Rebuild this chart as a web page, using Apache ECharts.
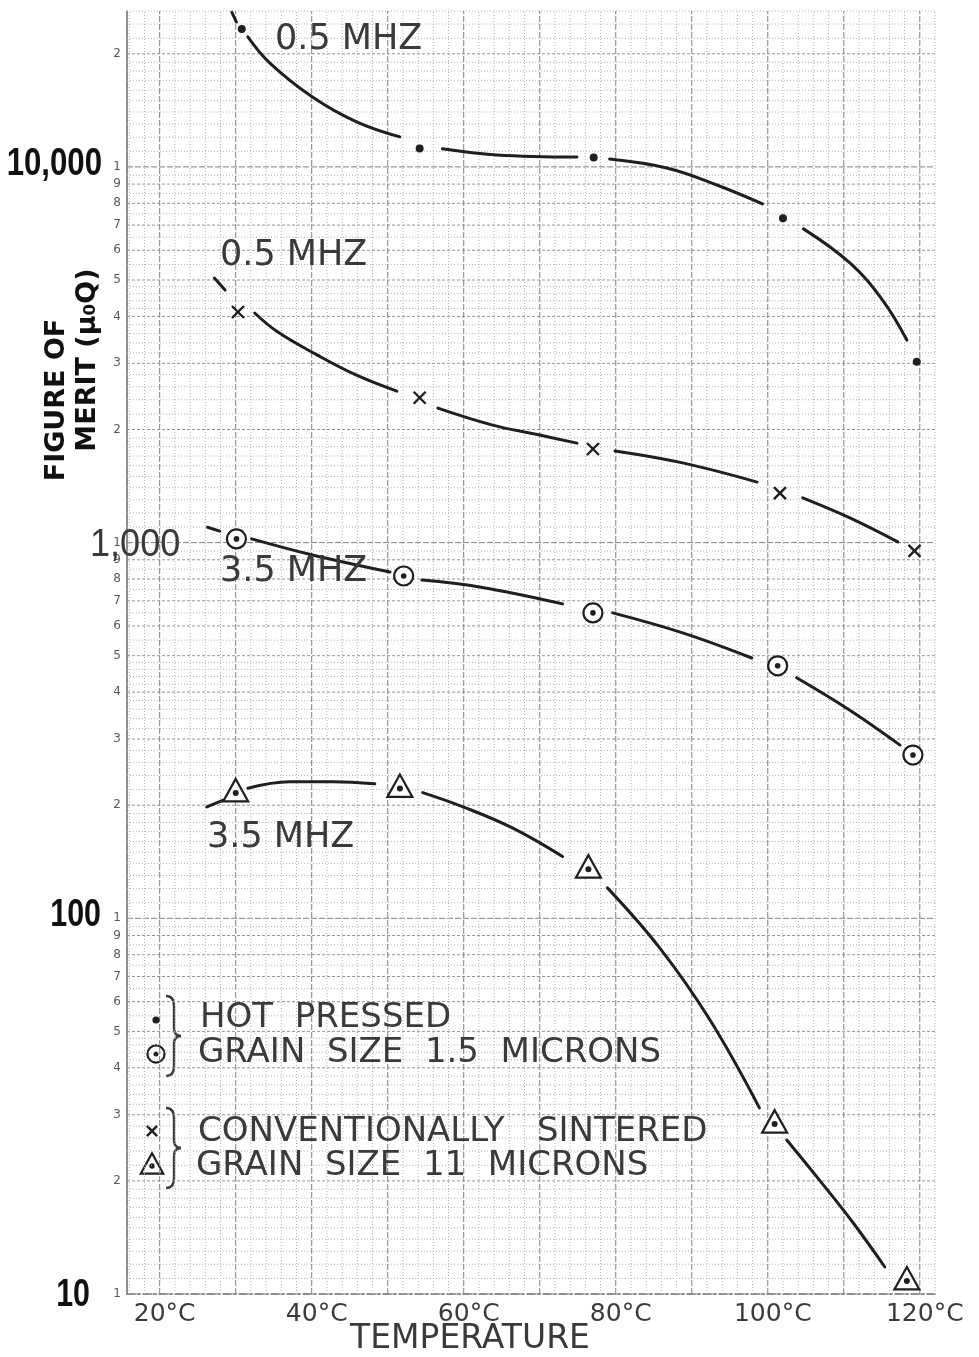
<!DOCTYPE html>
<html>
<head>
<meta charset="utf-8">
<title>Figure of Merit vs Temperature</title>
<script src="https://cdn.jsdelivr.net/npm/echarts@6.0.0/dist/echarts.min.js"></script>
<style>
  html, body { margin: 0; padding: 0; background: #ffffff; }
  #chart { width: 979px; height: 1357px; }
</style>
</head>
<body>
<div id="chart"></div>
<script>
// ---- Measured points (temperature in °C, figure of merit μ0Q) ----
const hotPressed05 = [[30.8, 23300], [54.2, 11200], [77.1, 10600], [102.0, 7300], [119.6, 3030]];
const conventional05 = [[30.3, 4110], [54.2, 2430], [77.0, 1775], [101.6, 1355], [119.3, 951]];
const hotPressed35 = [[30.1, 1023], [52.1, 815], [77.0, 650], [101.3, 470], [119.1, 272]];
const conventional35 = [[30.0, 217], [51.6, 223], [76.4, 136], [100.9, 28.5], [118.3, 10.9]];

// ---- Hand-drawn fair curves, broken around each plotted point ----
const hotPressed05Curve = [
  [[29.5, 25800], [30.1, 24300]],
  [[31.6, 22200], [34.5, 18900], [40.1, 15350], [45.9, 13180], [51.6, 12020]],
  [[57.2, 11170], [64.3, 10760], [74.9, 10620]],
  [[79.2, 10490], [86.7, 9930], [93.3, 8950], [99.3, 7970]],
  [[104.7, 6840], [110.8, 5550], [115.1, 4420], [118.3, 3460]]
];
const conventional05Curve = [
  [[27.2, 5060], [28.6, 4700]],
  [[32.5, 4085], [35.5, 3640], [40.7, 3160], [45.9, 2790], [51.2, 2530]],
  [[56.6, 2280], [63.8, 2055], [70.0, 1933], [74.9, 1840]],
  [[79.9, 1754], [88.8, 1630], [98.6, 1449]],
  [[104.6, 1315], [110.8, 1163], [117.1, 1004]]
];
const hotPressed35Curve = [
  [[26.3, 1099], [27.9, 1073]],
  [[32.1, 1023], [40.1, 927], [50.3, 835]],
  [[54.5, 795], [62.1, 762], [73.0, 687]],
  [[79.6, 650], [88.8, 575], [97.9, 493]],
  [[103.8, 437], [110.8, 358], [117.4, 289]]
];
const conventional35Curve = [
  [[26.2, 198], [28.3, 206]],
  [[31.6, 222], [37.1, 231], [42.8, 231], [48.3, 228]],
  [[54.6, 216], [59.9, 198], [66.4, 174], [73.0, 146]],
  [[78.9, 120.5], [85.8, 83.3], [92.4, 53.6], [98.9, 31.3]],
  [[102.5, 25.7], [106.8, 20.1], [111.2, 15.5], [115.4, 11.8]]
];

// ---- Axis text ----
const xTickValues = [20, 40, 60, 80, 100, 120];
const decadeValues = [10, 100, 1000, 10000];
const decadeLabels = ['10', '100', '1,000', '10,000'];
const paperDigits = [1, 2, 3, 4, 5, 6, 7, 8, 9];

// ---- Axis ranges of the ruled paper ----
const X_MIN = 15.7, X_MAX = 122;
const Y_MIN = 10, Y_MAX = 26000;

const INK = '#1f1f1f';
const PENCIL = '#3a3a3a';
const HAND = '"DejaVu Sans", "Liberation Sans", sans-serif';
const SANS = '"Liberation Sans", Arial, sans-serif';

// ---- Log-paper ruling ----
const hRules = [];
decadeValues.forEach(function (d) {
  for (let i = 0; i < 90; i++) {
    const m = Math.round((1 + i * 0.1) * 100) / 100;
    if (m >= 10) break;
    let keep = false;
    if (m < 2) keep = true;
    else if (m < 5) keep = Math.abs(m * 5 - Math.round(m * 5)) < 1e-6;
    else keep = Math.abs(m * 2 - Math.round(m * 2)) < 1e-6;
    if (!keep) continue;
    const v = m * d;
    if (v > Y_MAX) continue;
    const level = (m === 1) ? 0 : (Math.abs(m - Math.round(m)) < 1e-6 ? 1 : 2);
    hRules.push([X_MIN, v, level]);
  }
});
const vRules = [];
for (let t = 16; t <= X_MAX; t += 2) {
  vRules.push([t, Y_MIN, t % 10 === 0 ? 0 : 2]);
}

const ruleStyles = [
  { stroke: '#808080', lineWidth: 1, lineDash: [6, 2] },
  { stroke: '#959595', lineWidth: 1, lineDash: [3, 2] },
  { stroke: '#b4b4b4', lineWidth: 1, lineDash: [1, 2] }
];

const paperDigitData = [];
decadeValues.forEach(function (d) {
  paperDigits.forEach(function (k) {
    if (k * d <= Y_MAX) paperDigitData.push([X_MIN, k * d, k]);
  });
});

// ---- Plot symbols ----
function markerShape(kind, x, y, s) {
  s = s || 1;
  if (kind === 'dot') {
    return { type: 'circle', shape: { cx: x, cy: y, r: 4 * s }, style: { fill: INK } };
  }
  if (kind === 'ring') {
    return { type: 'group', children: [
      { type: 'circle', shape: { cx: x, cy: y, r: 9.5 * s }, style: { fill: '#ffffff', stroke: INK, lineWidth: 2.2 } },
      { type: 'circle', shape: { cx: x, cy: y, r: 2.8 * s }, style: { fill: INK } }
    ] };
  }
  if (kind === 'cross') {
    const h = 6 * s;
    return { type: 'group', children: [
      { type: 'line', shape: { x1: x - h, y1: y - h, x2: x + h, y2: y + h }, style: { stroke: INK, lineWidth: 2.4 } },
      { type: 'line', shape: { x1: x - h, y1: y + h, x2: x + h, y2: y - h }, style: { stroke: INK, lineWidth: 2.4 } }
    ] };
  }
  // triangle with a dot
  return { type: 'group', children: [
    { type: 'polygon', shape: { points: [[x, y - 13 * s], [x - 12.5 * s, y + 9.5 * s], [x + 12.5 * s, y + 9.5 * s]] },
      style: { fill: '#ffffff', stroke: INK, lineWidth: 2.2 } },
    { type: 'circle', shape: { cx: x, cy: y + 1, r: 3 * s }, style: { fill: INK } }
  ] };
}

function markerSeries(name, data, kind) {
  return {
    name: name, type: 'custom', data: data, z: 6, silent: true,
    renderItem: function (params, api) {
      const p = api.coord([api.value(0), api.value(1)]);
      return markerShape(kind, p[0], p[1]);
    }
  };
}

function curveSeries(name, segments) {
  return segments.map(function (seg, i) {
    return {
      name: name + ' curve ' + (i + 1), type: 'line', data: seg,
      smooth: 0.4, symbol: 'none', silent: true, z: 5,
      lineStyle: { color: INK, width: 3, cap: 'round' }
    };
  });
}

const chart = echarts.init(document.getElementById('chart'), null, { renderer: 'canvas' });

const series = [
  {
    name: 'horizontal rules', type: 'custom', data: hRules, z: 1, silent: true,
    renderItem: function (params, api) {
      const v = api.value(1);
      const a = api.coord([X_MIN, v]);
      const b = api.coord([X_MAX, v]);
      return { type: 'line', shape: { x1: a[0], y1: a[1], x2: b[0], y2: b[1] }, style: ruleStyles[api.value(2)] };
    }
  },
  {
    name: 'vertical rules', type: 'custom', data: vRules, z: 1, silent: true,
    renderItem: function (params, api) {
      const t = api.value(0);
      const a = api.coord([t, Y_MIN]);
      const b = api.coord([t, Y_MAX]);
      return { type: 'line', shape: { x1: a[0], y1: a[1], x2: b[0], y2: b[1] }, style: ruleStyles[api.value(2)] };
    }
  },
  {
    name: 'paper digits', type: 'custom', data: paperDigitData, z: 2, silent: true, clip: false,
    renderItem: function (params, api) {
      const p = api.coord([X_MIN, api.value(1)]);
      return { type: 'text', x: p[0] - 10, y: p[1],
        style: { text: String(api.value(2)), fill: '#585858', font: '12px "DejaVu Sans", sans-serif',
          align: 'center', verticalAlign: 'middle' } };
    }
  },
  {
    name: 'decade labels', type: 'custom', data: decadeValues.map(function (v) { return [X_MIN, v]; }),
    z: 8, silent: true, clip: false,
    renderItem: function (params, api) {
      const p = api.coord([X_MIN, api.value(1)]);
      const txt = decadeLabels[params.dataIndex];
      const place = {
        '10': { dx: -37, dy: 2, align: 'right', fill: '#111', weight: 'bold', sx: 0.8 },
        '100': { dx: -26, dy: -3, align: 'right', fill: '#111', weight: 'bold', sx: 0.8 },
        '1,000': { dx: -37, dy: 3, align: 'left', fill: '#3a3a3a', weight: 'normal', sx: 0.95 },
        '10,000': { dx: -25, dy: -2, align: 'right', fill: '#111', weight: 'bold', sx: 0.82 }
      }[txt];
      return { type: 'text', x: p[0] + place.dx, y: p[1] + place.dy, scaleX: place.sx,
        style: { text: txt, fill: place.fill, font: place.weight + ' 38px ' + SANS,
          align: place.align, verticalAlign: 'middle' } };
    }
  },
  {
    name: 'temperature labels', type: 'custom', data: xTickValues.map(function (v) { return [v, Y_MIN]; }),
    z: 8, silent: true, clip: false,
    renderItem: function (params, api) {
      const p = api.coord([api.value(0), Y_MIN]);
      return { type: 'text', x: p[0] + 5, y: p[1] + 20,
        style: { text: api.value(0) + '°C', fill: PENCIL, font: '25px ' + HAND,
          align: 'center', verticalAlign: 'middle' } };
    }
  }
]
  .concat(curveSeries('Hot pressed 0.5 MHz', hotPressed05Curve))
  .concat(curveSeries('Conventionally sintered 0.5 MHz', conventional05Curve))
  .concat(curveSeries('Hot pressed 3.5 MHz', hotPressed35Curve))
  .concat(curveSeries('Conventionally sintered 3.5 MHz', conventional35Curve))
  .concat([
    markerSeries('Hot pressed 0.5 MHz', hotPressed05, 'dot'),
    markerSeries('Conventionally sintered 0.5 MHz', conventional05, 'cross'),
    markerSeries('Hot pressed 3.5 MHz', hotPressed35, 'ring'),
    markerSeries('Conventionally sintered 3.5 MHz', conventional35, 'tri')
  ]);

function handText(text, x, y, size, opts) {
  opts = opts || {};
  return {
    type: 'text', x: x, y: y, z: 20, rotation: opts.rotation || 0,
    style: {
      text: text, fill: opts.fill || PENCIL,
      font: (opts.weight || 'normal') + ' ' + size + 'px ' + (opts.family || HAND),
      align: opts.align || 'left', verticalAlign: 'middle'
    }
  };
}

// curly brace grouping two key entries: hooks at the ends, tip in the middle
function brace(x, top, bottom) {
  const mid = (top + bottom) / 2;
  const sx = x + 8, tip = x + 15;
  const st = { fill: 'none', stroke: PENCIL, lineWidth: 2.4 };
  return {
    type: 'group', z: 20,
    children: [
      { type: 'bezierCurve', shape: { x1: x, y1: top, cpx1: sx, cpy1: top, x2: sx, y2: top + 10 }, style: st },
      { type: 'line', shape: { x1: sx, y1: top + 10, x2: sx, y2: mid - 8 }, style: st },
      { type: 'bezierCurve', shape: { x1: sx, y1: mid - 8, cpx1: sx, cpy1: mid, x2: tip, y2: mid }, style: st },
      { type: 'bezierCurve', shape: { x1: tip, y1: mid, cpx1: sx, cpy1: mid, x2: sx, y2: mid + 8 }, style: st },
      { type: 'line', shape: { x1: sx, y1: mid + 8, x2: sx, y2: bottom - 10 }, style: st },
      { type: 'bezierCurve', shape: { x1: sx, y1: bottom - 10, cpx1: sx, cpy1: bottom, x2: x, y2: bottom }, style: st }
    ]
  };
}

const graphics = [
  // curve annotations
  handText('0.5 MHZ', 275, 40, 35),
  handText('0.5 MHZ', 220, 256, 35),
  handText('3.5 MHZ', 220, 572, 35),
  handText('3.5 MHZ', 207, 838, 35),
  // axis titles
  handText('TEMPERATURE', 470, 1339, 33, { align: 'center' }),
  handText('FIGURE OF', 57, 400, 27, { align: 'center', rotation: Math.PI / 2, weight: 'bold', fill: '#111' }),
  handText('MERIT (μ₀Q)', 88, 360, 27, { align: 'center', rotation: Math.PI / 2, weight: 'bold', fill: '#111' }),
  // key
  handText('HOT  PRESSED', 200, 1018, 34),
  handText('GRAIN  SIZE  1.5  MICRONS', 198, 1053, 34),
  handText('CONVENTIONALLY   SINTERED', 198, 1132, 34),
  handText('GRAIN  SIZE  11  MICRONS', 196, 1166, 34),
  brace(166, 996, 1076),
  brace(166, 1108, 1188)
];
[['dot', 156, 1020], ['ring', 156, 1054], ['cross', 152, 1131], ['tri', 152, 1165]].forEach(function (m) {
  const g = markerShape(m[0], m[1], m[2], m[0] === 'cross' ? 0.85 : 0.9);
  g.z = 20;
  graphics.push(g);
});

chart.setOption({
  animation: false,
  backgroundColor: '#ffffff',
  grid: { left: 127, right: 44, top: 11, bottom: 63, containLabel: false },
  xAxis: {
    type: 'value', min: X_MIN, max: X_MAX,
    axisLine: { show: true, lineStyle: { color: '#7a7a7a', width: 1.5, type: [8, 3, 2, 3] } },
    axisTick: { show: false }, axisLabel: { show: false }, splitLine: { show: false }
  },
  yAxis: {
    type: 'log', logBase: 10, min: Y_MIN, max: Y_MAX,
    axisLine: { show: true, lineStyle: { color: '#6a6a6a', width: 1.5 } },
    axisTick: { show: false }, axisLabel: { show: false }, splitLine: { show: false }
  },
  series: series,
  graphic: graphics
});
</script>
</body>
</html>
